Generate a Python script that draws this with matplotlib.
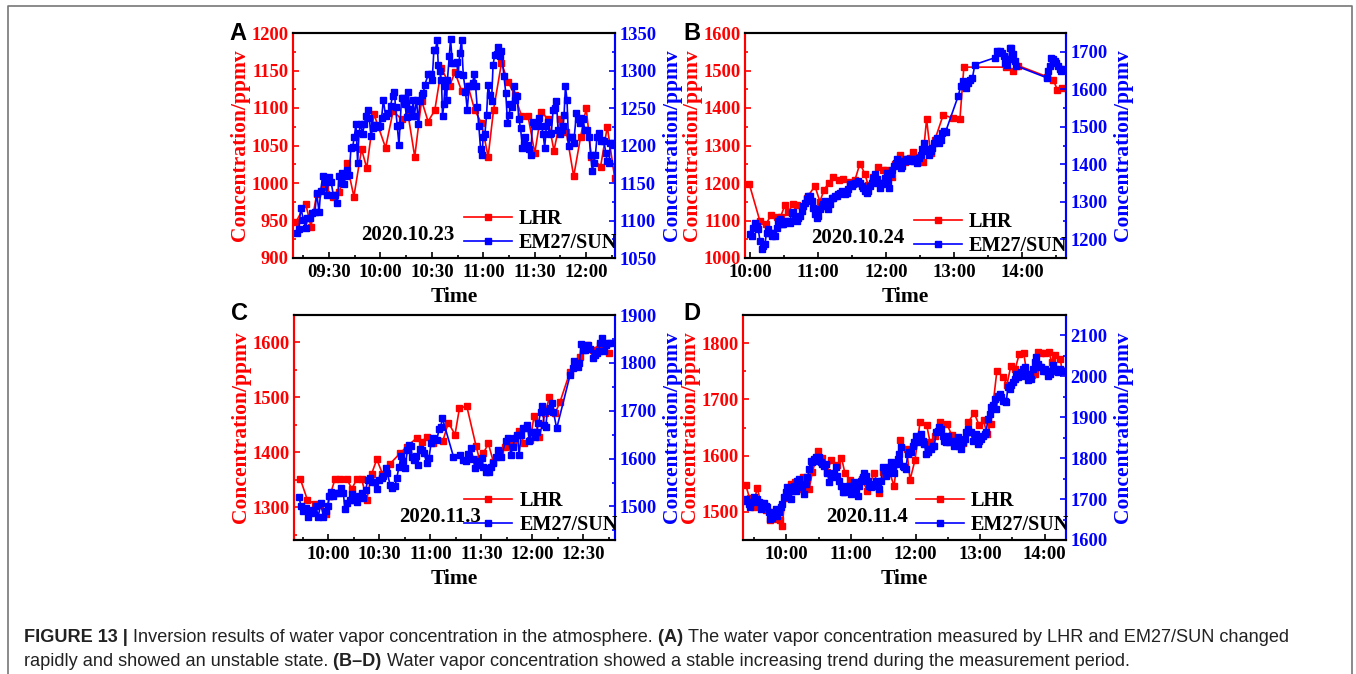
import matplotlib
matplotlib.use("Agg")
import matplotlib.pyplot as plt
from matplotlib.ticker import MultipleLocator, AutoMinorLocator, FuncFormatter
from matplotlib.lines import Line2D

# times are minutes after midnight, values in ppmv
# --- A: 2020.10.23
a_lhr_t = [550.7, 556.4, 559.5, 562.8, 567.6, 572.5, 576.0, 580.3, 584.5, 589.0, 592.0, 596.2, 603.0,
           607.4, 612.3, 616.2, 620.0, 624.0, 627.8, 631.7, 635.6, 640.5, 643.4, 647.3, 651.0, 655.0,
           658.9, 662.8, 666.0, 670.6, 674.4, 678.3, 682.2, 686.0, 690.0, 693.9, 697.7, 701.2, 704.9,
           708.4, 712.7, 716.8, 720.0, 723.0, 728.4, 732.3, 736.6]
a_lhr_v = [948, 972, 942, 985, 995, 982, 988, 1027, 982, 1045, 1020, 1092, 1047,
           1096, 1085, 1090, 1035, 1110, 1082, 1097, 1153, 1130, 1148, 1123, 1130, 1097,
           1080, 1035, 1098, 1160, 1135, 1117, 1090, 1090, 1040, 1095, 1085, 1043, 1085,
           1068, 1009, 1062, 1100, 1035, 1022, 1075, 1007]
a_em_t = [551.2, 552.5, 553.5, 555.1, 556.4, 557.4, 558.9, 560.3, 561.8, 562.8, 564.2, 565.1, 566.3,
          567.9, 568.6, 569.8, 571.2, 572.5, 573.5, 574.9, 575.8, 576.8, 577.8, 578.7, 579.7, 580.7,
          581.8, 582.8, 583.8, 584.8, 585.7, 586.7, 587.5, 588.5, 589.6, 590.6, 591.6, 592.5, 593.5,
          594.5, 595.4, 596.4, 597.4, 598.4, 599.7, 600.7, 601.7, 603.0, 604.6, 605.9, 607.1, 608.1,
          608.8, 609.8, 610.8, 611.4, 612.3, 613.3, 614.3, 615.2, 616.2, 617.2, 618.2, 619.1, 619.7,
          621.1, 622.0, 623.0, 624.0, 625.0, 625.9, 627.9, 629.2, 630.2, 631.2, 632.1, 633.1, 633.7,
          634.7, 635.6, 636.2, 637.0, 637.6, 638.6, 639.1, 640.1, 640.9, 641.9, 643.0, 644.4, 645.3,
          646.3, 647.3, 648.3, 649.6, 650.6, 651.8, 652.7, 653.7, 654.7, 655.5, 656.4, 657.4, 658.4,
          659.3, 659.9, 660.9, 661.9, 662.8, 663.8, 664.8, 665.7, 666.7, 667.7, 668.6, 669.6, 670.6,
          672.0, 673.1, 674.1, 675.1, 675.8, 676.8, 677.8, 678.7, 679.7, 680.7, 681.7, 682.8, 683.8,
          684.6, 685.5, 686.7, 687.7, 688.7, 689.6, 690.6, 691.6, 692.5, 693.9, 694.9, 695.8, 696.8,
          697.8, 698.8, 699.7, 700.7, 701.7, 702.6, 703.6, 704.6, 705.6, 706.5, 707.1, 707.9, 708.8,
          709.8, 710.8, 711.8, 712.7, 714.3, 715.3, 716.2, 717.2, 718.2, 719.1, 720.7, 721.7, 722.6,
          723.6, 724.4, 725.4, 726.3, 727.5, 728.5, 729.4, 730.4, 731.4, 732.3, 733.3, 734.1, 735.1,
          736.2]
a_em_v = [1083, 1089, 1117, 1101, 1090, 1103, 1104, 1110, 1111, 1137, 1111, 1139, 1159,
          1152, 1134, 1158, 1152, 1134, 1134, 1123, 1159, 1150, 1163, 1149, 1159, 1167,
          1161, 1197, 1198, 1212, 1229, 1177, 1217, 1229, 1215, 1229, 1239, 1248, 1237,
          1213, 1223, 1228, 1227, 1225, 1226, 1237, 1261, 1239, 1243, 1253, 1266, 1272,
          1251, 1226, 1201, 1227, 1263, 1263, 1255, 1238, 1272, 1249, 1239, 1261, 1239,
          1261, 1229, 1259, 1268, 1270, 1281, 1295, 1296, 1288, 1328, 1327, 1341, 1307,
          1299, 1288, 1239, 1255, 1279, 1261, 1288, 1319, 1342, 1310, 1310, 1311, 1295,
          1323, 1341, 1294, 1272, 1248, 1279, 1279, 1283, 1295, 1280, 1251, 1226, 1195,
          1187, 1212, 1215, 1241, 1281, 1268, 1259, 1308, 1321, 1322, 1332, 1319, 1326,
          1293, 1270, 1230, 1241, 1255, 1252, 1279, 1261, 1266, 1236, 1223, 1197, 1202,
          1212, 1201, 1195, 1187, 1232, 1229, 1226, 1227, 1237, 1226, 1215, 1197, 1226,
          1232, 1215, 1217, 1248, 1250, 1260, 1221, 1215, 1221, 1226, 1241, 1279, 1261,
          1199, 1212, 1212, 1203, 1243, 1235, 1230, 1237, 1235, 1221, 1221, 1212, 1188,
          1166, 1177, 1188, 1212, 1217, 1206, 1208, 1206, 1190, 1179, 1177, 1203, 1203,
          1201]

# --- B: 2020.10.24
b_lhr_t = [599.4, 608.8, 614.1, 618.5, 623.5, 627.0, 630.8, 633.8, 638.2, 641.7, 646.1, 649.9, 657.3,
           661.7, 665.2, 669.6, 673.4, 678.7, 681.7, 688.1, 692.6, 697.0, 701.4, 704.3, 708.7, 712.5,
           717.0, 719.9, 724.9, 727.8, 732.2, 736.7, 741.1, 744.0, 748.4, 752.2, 755.8, 759.3, 763.1,
           770.5, 778.7, 785.2, 788.7, 826.3, 832.2, 836.6, 861.6, 867.5, 871.3, 875.7]
b_lhr_v = [1197, 1098, 1090, 1114, 1110, 1110, 1141, 1123, 1145, 1141, 1135, 1159, 1192,
           1150, 1181, 1201, 1215, 1208, 1212, 1203, 1208, 1252, 1224, 1194, 1217, 1243,
           1236, 1234, 1217, 1252, 1275, 1257, 1266, 1282, 1270, 1257, 1370, 1279, 1315,
           1382, 1373, 1370, 1509, 1509, 1499, 1513, 1484, 1475, 1448, 1454]
b_em_t = [600.0, 601.4, 602.9, 604.4, 605.8, 607.3, 608.8, 610.2, 611.7, 613.2, 614.6, 616.1, 617.6,
          619.0, 620.5, 622.0, 623.5, 624.9, 626.4, 627.9, 629.3, 631.7, 633.8, 635.2, 636.7, 638.2,
          639.6, 641.1, 642.6, 644.0, 645.5, 647.0, 648.5, 649.9, 651.4, 652.9, 654.3, 655.8, 657.3,
          658.7, 660.2, 661.7, 663.2, 664.6, 666.1, 667.6, 669.0, 670.5, 672.0, 673.4, 674.9, 676.4,
          677.9, 679.3, 680.8, 682.3, 683.7, 685.2, 686.7, 688.1, 689.6, 691.1, 692.6, 694.0, 695.5,
          697.0, 698.4, 699.9, 701.4, 702.8, 704.3, 705.8, 707.3, 708.7, 710.2, 711.7, 713.1, 714.6,
          716.1, 717.5, 719.0, 720.5, 722.0, 722.8, 724.0, 725.5, 726.9, 728.4, 729.9, 731.4, 732.8,
          734.3, 735.8, 737.2, 738.7, 740.2, 741.6, 743.1, 744.6, 746.1, 747.5, 749.0, 750.5, 751.9,
          753.4, 754.9, 756.3, 757.8, 759.3, 760.8, 762.2, 763.7, 765.2, 766.6, 768.1, 769.6, 771.0,
          772.5, 783.7, 786.0, 787.5, 789.0, 790.5, 791.9, 794.0, 796.3, 798.4, 816.0, 817.5, 819.0,
          820.4, 821.9, 824.0, 825.4, 826.9, 828.4, 829.3, 830.7, 832.2, 833.7, 835.1, 861.6, 863.1,
          864.5, 866.0, 867.5, 868.9, 870.4, 871.9, 873.4, 874.8, 876.3]
b_em_v = [1213, 1209, 1231, 1244, 1236, 1227, 1196, 1175, 1182, 1187, 1218, 1227, 1218,
          1209, 1218, 1209, 1231, 1249, 1253, 1240, 1240, 1249, 1249, 1244, 1271, 1273,
          1253, 1249, 1258, 1262, 1276, 1289, 1298, 1307, 1315, 1315, 1302, 1284, 1267,
          1258, 1262, 1280, 1289, 1293, 1302, 1289, 1280, 1293, 1311, 1311, 1315, 1315,
          1320, 1324, 1329, 1326, 1320, 1324, 1333, 1347, 1342, 1347, 1349, 1351, 1355,
          1351, 1342, 1338, 1329, 1324, 1329, 1342, 1351, 1364, 1373, 1360, 1351, 1338,
          1347, 1351, 1364, 1378, 1355, 1338, 1373, 1386, 1395, 1404, 1413, 1400, 1391,
          1395, 1409, 1413, 1415, 1413, 1409, 1413, 1409, 1413, 1404, 1418, 1426, 1440,
          1458, 1435, 1440, 1426, 1435, 1444, 1458, 1466, 1471, 1458, 1466, 1484, 1489,
          1486, 1582, 1609, 1622, 1609, 1604, 1617, 1626, 1631, 1666, 1684, 1702, 1699,
          1702, 1697, 1688, 1671, 1666, 1680, 1711, 1709, 1693, 1675, 1662, 1631, 1648,
          1662, 1684, 1680, 1675, 1671, 1662, 1653, 1648, 1653]

# --- C: 2020.11.3
c_lhr_t = [583.4, 587.7, 592.2, 595.1, 598.7, 601.0, 603.9, 606.9, 610.8, 613.8, 616.7, 619.6, 622.6,
           625.5, 628.5, 631.8, 636.3, 642.2, 646.1, 652.0, 654.9, 657.9, 661.8, 667.3, 670.6, 674.5,
           677.1, 681.4, 686.9, 688.8, 691.2, 694.1, 697.1, 701.0, 703.9, 708.9, 712.4, 715.1, 718.7,
           721.0, 724.1, 727.5, 730.0, 733.4, 736.3, 742.2, 748.1, 752.0, 755.5, 759.8, 765.3]
c_lhr_v = [1352, 1313, 1306, 1303, 1288, 1321, 1351, 1351, 1352, 1333, 1351, 1351, 1313,
           1361, 1387, 1361, 1379, 1398, 1410, 1426, 1419, 1428, 1416, 1420, 1454, 1432,
           1480, 1484, 1411, 1388, 1398, 1416, 1382, 1401, 1410, 1417, 1439, 1416, 1422,
           1466, 1428, 1471, 1500, 1471, 1492, 1547, 1574, 1596, 1587, 1596, 1580]
c_em_t = [582.8, 583.9, 585.3, 586.9, 588.3, 589.6, 591.2, 592.6, 594.1, 595.5, 597.1, 598.7, 599.6,
          600.4, 601.6, 603.0, 604.3, 605.9, 607.3, 608.8, 609.8, 611.2, 612.8, 614.1, 615.3, 616.7,
          618.3, 619.6, 620.6, 622.0, 623.2, 624.5, 625.9, 627.5, 628.5, 629.8, 631.4, 632.4, 633.8,
          634.7, 636.3, 637.7, 639.2, 640.2, 641.6, 642.8, 644.1, 645.1, 646.5, 647.5, 648.5, 649.4,
          650.6, 651.6, 652.6, 653.9, 655.3, 656.3, 657.9, 659.2, 660.4, 661.8, 663.8, 665.1, 666.1,
          667.1, 673.6, 677.5, 679.4, 680.8, 682.4, 683.8, 685.3, 686.3, 687.3, 688.9, 690.2, 691.2,
          692.6, 693.8, 694.5, 695.7, 697.1, 698.5, 700.0, 701.6, 704.3, 705.9, 707.3, 708.5, 709.8,
          711.2, 712.2, 713.4, 714.7, 716.1, 717.1, 718.3, 719.2, 720.2, 721.6, 722.6, 723.6, 724.9,
          725.9, 726.9, 727.9, 728.8, 730.4, 731.4, 732.4, 734.3, 742.2, 743.8, 744.7, 745.7, 746.7,
          747.7, 748.7, 750.0, 751.0, 752.0, 753.0, 754.0, 755.9, 756.9, 757.9, 758.9, 759.8, 761.2,
          762.2, 763.2, 764.3, 765.7]
c_em_v = [1520, 1500, 1490, 1497, 1479, 1486, 1493, 1500, 1479, 1507, 1479, 1490, 1500,
          1521, 1531, 1521, 1528, 1528, 1538, 1528, 1494, 1507, 1514, 1526, 1514, 1510,
          1521, 1528, 1517, 1535, 1556, 1559, 1552, 1552, 1536, 1556, 1559, 1563, 1580,
          1570, 1545, 1538, 1542, 1559, 1583, 1606, 1594, 1580, 1618, 1629, 1627, 1604,
          1597, 1606, 1587, 1620, 1618, 1611, 1590, 1601, 1632, 1643, 1639, 1661, 1667,
          1684, 1604, 1608, 1597, 1594, 1610, 1622, 1599, 1580, 1587, 1594, 1601, 1583,
          1573, 1580, 1573, 1583, 1590, 1604, 1618, 1604, 1636, 1643, 1608, 1625, 1643,
          1650, 1608, 1650, 1663, 1663, 1670, 1636, 1655, 1656, 1646, 1656, 1674, 1698,
          1710, 1670, 1667, 1700, 1705, 1716, 1698, 1663, 1775, 1789, 1803, 1794, 1792,
          1799, 1839, 1827, 1827, 1834, 1837, 1830, 1810, 1817, 1820, 1824, 1841, 1851,
          1824, 1837, 1841, 1841]

# --- D: 2020.11.4
d_lhr_t = [562.2, 565.9, 569.6, 572.7, 576.7, 580.8, 584.5, 587.6, 591.3, 593.8, 596.3, 598.5, 601.6,
           604.7, 607.8, 612.4, 615.5, 621.1, 624.2, 629.5, 633.5, 637.3, 641.9, 646.6, 651.2, 654.3,
           659.0, 663.7, 669.9, 675.1, 681.7, 686.3, 690.0, 694.7, 700.0, 705.6, 711.8, 714.9, 719.5,
           724.2, 730.4, 733.5, 738.2, 742.8, 749.0, 753.7, 759.9, 764.5, 769.2, 774.5, 779.1, 783.2,
           786.3, 790.0, 795.6, 801.2, 804.9, 808.6, 812.6, 816.4, 820.4, 823.5, 828.2, 831.3, 833.4,
           836.9, 839.9, 843.7, 846.8, 849.9, 854.6, 856.1]
d_lhr_v = [1548, 1524, 1509, 1543, 1515, 1503, 1485, 1500, 1488, 1485, 1475, 1524, 1536,
           1550, 1554, 1540, 1562, 1540, 1571, 1608, 1596, 1571, 1592, 1583, 1596, 1570,
           1556, 1541, 1559, 1538, 1570, 1533, 1571, 1578, 1546, 1627, 1612, 1557, 1592,
           1660, 1654, 1624, 1635, 1659, 1657, 1636, 1627, 1623, 1660, 1676, 1654, 1663,
           1639, 1657, 1751, 1740, 1726, 1760, 1754, 1781, 1783, 1746, 1744, 1746, 1784,
           1783, 1783, 1784, 1766, 1779, 1771, 1751]
d_em_t = [561.2, 562.8, 564.9, 566.5, 568.4, 569.6, 571.5, 573.0, 574.6, 576.1, 577.7, 579.2, 580.8,
          582.3, 583.9, 585.1, 586.7, 588.5, 590.1, 591.6, 593.2, 594.8, 596.3, 597.9, 599.4, 601.0,
          602.5, 604.1, 605.6, 607.2, 608.7, 610.3, 611.8, 613.4, 614.9, 616.5, 618.0, 619.6, 621.1,
          622.7, 624.2, 625.8, 627.3, 628.9, 630.4, 632.0, 633.5, 635.1, 636.7, 638.2, 639.8, 641.3,
          642.9, 644.4, 646.0, 647.5, 649.1, 650.6, 652.2, 653.7, 655.3, 656.8, 658.4, 659.9, 661.5,
          663.0, 664.6, 666.1, 667.7, 669.2, 670.8, 672.4, 673.9, 675.5, 677.0, 678.6, 680.1, 681.7,
          683.2, 684.8, 686.3, 687.9, 689.4, 691.0, 692.5, 694.1, 695.6, 697.2, 698.7, 700.3, 701.8,
          703.4, 704.9, 706.5, 708.0, 709.6, 711.1, 712.7, 714.3, 715.8, 717.4, 718.9, 720.5, 722.0,
          723.6, 725.1, 726.7, 728.2, 729.8, 731.3, 732.9, 734.4, 736.0, 737.5, 739.1, 740.6, 742.2,
          743.7, 745.3, 746.9, 748.4, 750.0, 751.5, 753.1, 754.6, 756.2, 757.7, 759.3, 760.8, 762.4,
          763.9, 765.5, 767.0, 768.6, 770.1, 771.7, 773.2, 774.8, 776.3, 777.9, 779.4, 781.0, 782.5,
          784.1, 785.6, 787.2, 788.8, 790.3, 791.9, 793.4, 795.0, 796.5, 798.1, 799.6, 801.2, 802.7,
          804.3, 805.8, 807.4, 808.9, 810.5, 812.0, 813.6, 815.1, 816.7, 818.2, 819.8, 821.3, 822.9,
          824.4, 826.0, 827.5, 829.1, 830.7, 832.2, 833.8, 835.3, 836.9, 838.4, 840.0, 841.5, 843.1,
          844.6, 846.2, 847.7, 849.3, 850.8, 852.4, 853.9, 855.5, 857.0, 858.6]
d_em_v = [1696, 1700, 1688, 1680, 1692, 1704, 1696, 1700, 1692, 1676, 1680, 1690, 1684,
          1680, 1668, 1651, 1655, 1664, 1676, 1659, 1668, 1680, 1688, 1704, 1718, 1729,
          1721, 1700, 1721, 1733, 1721, 1745, 1749, 1737, 1729, 1712, 1737, 1753, 1774,
          1794, 1790, 1798, 1802, 1794, 1802, 1790, 1786, 1782, 1786, 1765, 1741, 1761,
          1753, 1765, 1778, 1757, 1745, 1733, 1717, 1717, 1721, 1733, 1729, 1712, 1733,
          1741, 1725, 1708, 1733, 1745, 1753, 1765, 1757, 1745, 1733, 1729, 1733, 1737,
          1745, 1733, 1725, 1745, 1778, 1770, 1757, 1765, 1778, 1790, 1774, 1765, 1786,
          1798, 1810, 1827, 1782, 1778, 1774, 1810, 1814, 1814, 1831, 1839, 1855, 1847,
          1839, 1859, 1843, 1835, 1810, 1814, 1823, 1823, 1831, 1831, 1863, 1867, 1876,
          1872, 1855, 1843, 1839, 1855, 1839, 1843, 1839, 1831, 1843, 1851, 1831, 1823,
          1839, 1847, 1863, 1872, 1863, 1863, 1843, 1855, 1859, 1835, 1843, 1847, 1855,
          1859, 1863, 1896, 1908, 1925, 1929, 1945, 1920, 1953, 1957, 1949, 1941, 1941,
          1937, 1974, 1969, 1978, 1986, 1994, 2006, 1998, 2002, 2010, 2018, 2022, 2002,
          1990, 2006, 1994, 2018, 2035, 2047, 2031, 2022, 2022, 2014, 2018, 2014, 2002,
          2006, 2014, 2027, 2018, 2014, 2010, 2018, 2014, 2014, 2014]

RED = "#FF0000"
BLUE = "#0000FF"
W, H = 1356, 674

plt.rcParams['font.family'] = ['Liberation Serif', 'DejaVu Serif']
plt.rcParams['font.weight'] = 'bold'
plt.rcParams['axes.labelweight'] = 'bold'

fig = plt.figure(figsize=(W / 100, H / 100), dpi=100)


def hhmm(x, pos):
    m = int(round(x))
    return f"{m // 60:02d}:{m % 60:02d}"


def px(x0, y0, x1, y1):
    # pixel box -> figure fraction rect
    return [x0 / W, 1 - y1 / H, (x1 - x0) / W, (y1 - y0) / H]


def panel(rect, letter, letter_xy, date, date_xy, leg_xy,
          lhr_t, lhr_v, em_t, em_v, xlim, xmaj, xmin,
          ylim_l, ylim_r, yticks_l, yticks_r):
    ax = fig.add_axes(rect)
    ax2 = ax.twinx()
    l1, = ax.plot(lhr_t, lhr_v, color=RED, marker='s', ms=4, lw=1.2, label='LHR')
    l2, = ax2.plot(em_t, em_v, color=BLUE, marker='s', ms=4, lw=1.2, label='EM27/SUN')

    ax.set_xlim(*xlim)
    ax.set_ylim(*ylim_l)
    ax2.set_ylim(*ylim_r)
    ax.set_yticks(yticks_l)
    ax2.set_yticks(yticks_r)
    ax.yaxis.set_minor_locator(AutoMinorLocator(2))
    ax2.yaxis.set_minor_locator(AutoMinorLocator(2))
    ax.xaxis.set_major_locator(MultipleLocator(xmaj))
    ax.xaxis.set_minor_locator(MultipleLocator(xmin))
    ax.xaxis.set_major_formatter(FuncFormatter(hhmm))

    for a in (ax, ax2):
        for s in a.spines.values():
            s.set_linewidth(1.5)
        a.spines['left'].set_color(RED)
        a.spines['right'].set_color(BLUE)
    ax.tick_params(axis='y', which='both', direction='in', colors=RED, labelsize=13.3, width=1.2, pad=3)
    ax2.tick_params(axis='y', which='both', direction='in', colors=BLUE, labelsize=13.3, width=1.2, pad=3)
    ax.tick_params(axis='x', which='both', direction='in', labelsize=13.5, width=1.2, pad=4)
    for a in (ax, ax2):
        a.tick_params(which='major', length=4)
        a.tick_params(which='minor', length=2)

    ax.set_xlabel('Time', fontsize=15.5, labelpad=5)
    ax.set_ylabel('Concentration/ppmv', color=RED, fontsize=15.5, labelpad=1)
    ax2.set_ylabel('Concentration/ppmv', color=BLUE, fontsize=15.5, labelpad=4)

    ax2.text(date_xy[0], date_xy[1], date, transform=ax.transAxes, fontsize=15,
             ha='center', va='center', color='black')
    ax2.legend(handles=[l1, l2], loc='lower left', bbox_to_anchor=leg_xy, frameon=False,
               fontsize=14.5, handlelength=2.4, handletextpad=0.35, labelspacing=0.2,
               borderpad=0, borderaxespad=0)

    fig.text(letter_xy[0] / W, 1 - letter_xy[1] / H, letter, fontsize=17,
             family=['Liberation Sans', 'DejaVu Sans'], weight='bold',
             ha='center', va='center')


panel(px(293, 33, 615, 258), 'A', (238, 33), '2020.10.23', (0.357, 0.10), (0.53, 0.02),
      a_lhr_t, a_lhr_v, a_em_t, a_em_v, (549, 736.8), 30, 15,
      (900, 1200), (1050, 1350), range(900, 1201, 50), range(1050, 1351, 50))
panel(px(745, 33, 1066, 258), 'B', (692, 33), '2020.10.24', (0.35, 0.09), (0.525, 0.01),
      b_lhr_t, b_lhr_v, b_em_t, b_em_v, (595.6, 878.8), 60, 30,
      (1000, 1600), (1150, 1750), range(1000, 1601, 100), range(1200, 1701, 100))
panel(px(294, 315, 615, 540), 'C', (240, 313), '2020.11.3', (0.455, 0.10), (0.53, 0.02),
      c_lhr_t, c_lhr_v, c_em_t, c_em_v, (579.8, 768.6), 30, 15,
      (1240, 1650), (1430, 1900), range(1300, 1601, 100), range(1500, 1901, 100))
panel(px(743, 315, 1066, 540), 'D', (692, 313), '2020.11.4', (0.384, 0.10), (0.535, 0.02),
      d_lhr_t, d_lhr_v, d_em_t, d_em_v, (559.7, 859.8), 60, 30,
      (1450, 1850), (1600, 2150), range(1500, 1801, 100), range(1600, 2101, 100))

# frame around the figure area (open at the bottom)
fig.add_artist(Line2D([8 / W, 8 / W, 1352 / W, 1352 / W], [0, 1 - 6 / H, 1 - 6 / H, 0],
                      transform=fig.transFigure, color='#777777', lw=1.2))

# caption with mixed bold / regular runs
sans = ['Liberation Sans', 'DejaVu Sans']
renderer = fig.canvas.get_renderer()
lines = [
    [("FIGURE 13 | ", 'bold'),
     ("Inversion results of water vapor concentration in the atmosphere. ", 'normal'),
     ("(A) ", 'bold'),
     ("The water vapor concentration measured by LHR and EM27/SUN changed", 'normal')],
    [("rapidly and showed an unstable state. ", 'normal'),
     ("(B\u2013D) ", 'bold'),
     ("Water vapor concentration showed a stable increasing trend during the measurement period.", 'normal')],
]
for i, runs in enumerate(lines):
    x = 24
    y = 637 + i * 24
    for txt, wt in runs:
        t = fig.text(x / W, 1 - y / H, txt, fontsize=13.1, family=sans, weight=wt,
                     ha='left', va='center', color='#222222')
        bb = t.get_window_extent(renderer)
        x += bb.width

fig.savefig('out.png', dpi=100)
